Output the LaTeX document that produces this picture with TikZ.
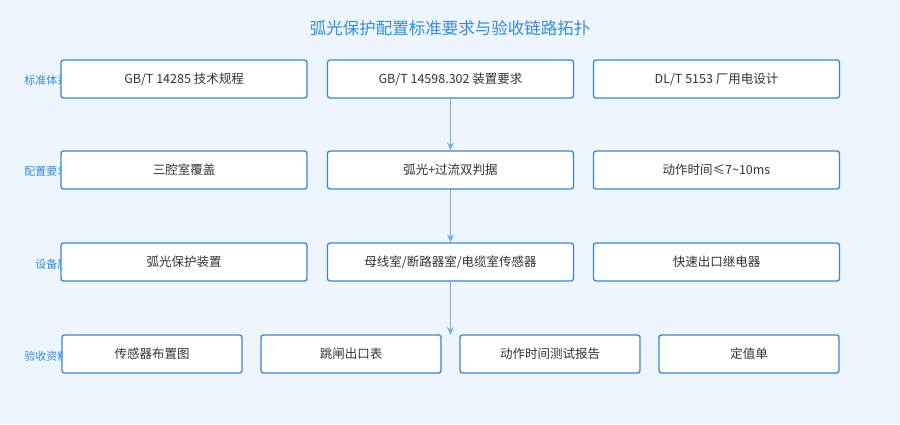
\documentclass[tikz,border=0pt]{standalone}
\usepackage{fontspec}
\setmainfont{Noto Sans CJK SC}
\usetikzlibrary{arrows.meta}
\definecolor{pagebg}{RGB}{238, 245, 252}
\definecolor{boxblue}{RGB}{58, 134, 200}
\definecolor{linkblue}{RGB}{125, 176, 218}
\definecolor{titleblue}{RGB}{52, 140, 212}
\definecolor{textgray}{RGB}{51, 51, 51}
\begin{document}
\begin{tikzpicture}[
    x=1pt, y=-1pt,
    % Define Styles for Consistency
    layer/.style={
        anchor=east, font=\fontsize{11}{13}\selectfont, text=titleblue
    },
    wide/.style={
        rectangle, rounded corners=2.5pt, draw=boxblue, line width=1.3pt,
        fill=white, minimum width=246pt, minimum height=38pt,
        font=\fontsize{12.5}{15}\selectfont, text=textgray
    },
    narrow/.style={
        wide, minimum width=180pt
    },
    arrow/.style={
        -{Stealth[length=8pt,width=7pt]}, line width=1.2pt, draw=linkblue
    }
]

    % --- background and title ---
    \fill[pagebg] (0,0) rectangle (900,424);
    \node[font=\fontsize{16.5}{20}\selectfont, text=titleblue] (title) at (450,28) {弧光保护配置标准要求与验收链路拓扑};

    % --- layer labels (partly hidden behind boxes) ---
    \node[layer] (lstd) at (72,80) {标准体系};
    \node[layer] (lreq) at (72,171) {配置要求};
    \node[layer] (ldev) at (72,264) {设备层};
    \node[layer] (lacc) at (72,356) {验收资料};

    % --- row 1: standards ---
    \node[wide] (std1) at (184,79) {GB/T 14285 技术规程};
    \node[wide] (std2) at (450.5,79) {GB/T 14598.302 装置要求};
    \node[wide] (std3) at (716.5,79) {DL/T 5153 厂用电设计};

    % --- row 2: requirements ---
    \node[wide] (req1) at (184,170) {三腔室覆盖};
    \node[wide] (req2) at (450.5,170) {弧光+过流双判据};
    \node[wide] (req3) at (716.5,170) {动作时间≤7\textasciitilde10ms};

    % --- row 3: devices ---
    \node[wide] (dev1) at (184,262) {弧光保护装置};
    \node[wide] (dev2) at (450.5,262) {母线室/断路器室/电缆室传感器};
    \node[wide] (dev3) at (716.5,262) {快速出口继电器};

    % --- row 4: acceptance documents ---
    \node[narrow] (acc1) at (152,354) {传感器布置图};
    \node[narrow] (acc2) at (351,354) {跳闸出口表};
    \node[narrow] (acc3) at (550,354) {动作时间测试报告};
    \node[narrow] (acc4) at (749,354) {定值单};
    \coordinate (accin) at (450.5,335);

    % --- links ---
    \draw[arrow] (std2) -- (req2);
    \draw[arrow] (req2) -- (dev2);
    \draw[arrow] (dev2) -- (accin);

\end{tikzpicture}
\end{document}
